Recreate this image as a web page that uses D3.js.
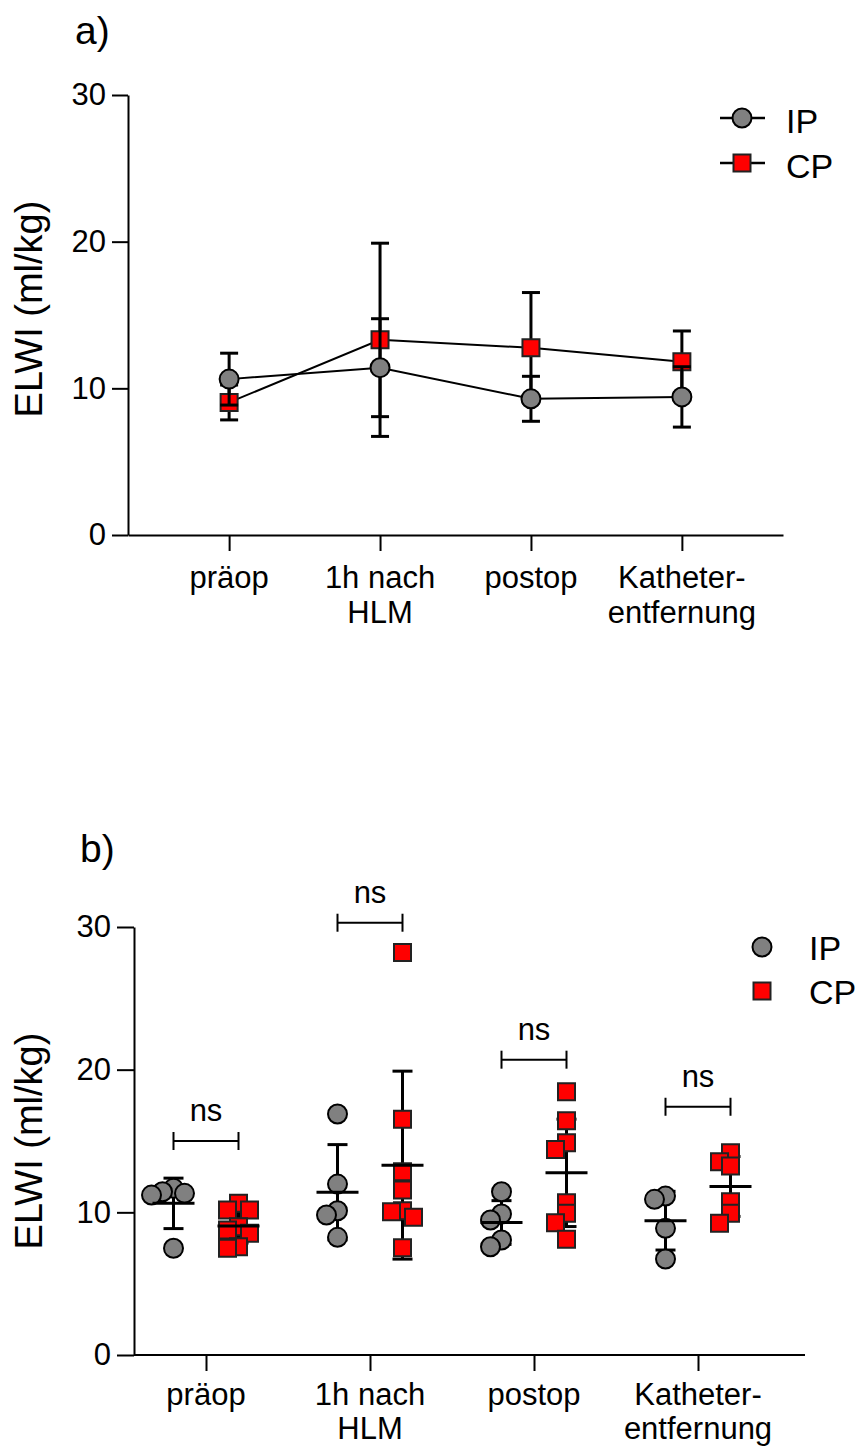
<!DOCTYPE html>
<html>
<head>
<meta charset="utf-8">
<script src="https://cdn.jsdelivr.net/npm/d3@7"></script>
<style>
  body { margin: 0; background: #fff; }
  text { font-family: "Liberation Sans", Arial, sans-serif; fill: #000; }
</style>
</head>
<body>
<svg id="chart"></svg>
<script>
// data
const categories = ["präop", "1h nach HLM", "postop", "Katheterentfernung"];
const categoryLines = [["präop"], ["1h nach", "HLM"], ["postop"], ["Katheter-", "entfernung"]];
const groups = ["IP", "CP"];
const ipValues = [
  [11.68, 11.44, 11.33, 11.21, 7.48],
  [16.89, 11.98, 10.11, 9.81, 8.25],
  [11.44, 9.88, 9.46, 8.06, 7.59],
  [11.14, 10.91, 8.88, 6.73]
];
const cpValues = [
  [10.63, 10.16, 10.16, 8.99, 8.76, 8.53, 7.59, 7.48],
  [28.22, 16.52, 12.85, 11.56, 10.11, 10.04, 9.65, 7.52],
  [18.45, 16.42, 14.88, 14.41, 10.67, 9.93, 9.27, 8.11],
  [14.18, 13.55, 13.24, 10.74, 9.93, 9.23]
];
const bracketLevels = [15.0, 30.3, 20.7, 17.4];
const bracketLabels = ["ns", "ns", "ns", "ns"];
const yTicks = [0, 10, 20, 30];

const W = 859, H = 1448;
const grey = "#808080", red = "#ff0000";

const svg = d3.select("#chart").attr("width", W).attr("height", H);
svg.append("rect").attr("width", W).attr("height", H).attr("fill", "#fff");

const series = [
  {name: "IP", values: ipValues, symbol: d3.symbolCircle, fill: grey, size: Math.PI * 9.5 * 9.5},
  {name: "CP", values: cpValues, symbol: d3.symbolSquare, fill: red, size: 17 * 17}
];
series.forEach(s => {
  s.stats = s.values.map((v, i) => ({cat: categories[i], mean: d3.mean(v), sd: d3.deviation(v)}));
});

function marker(g, s, x, y) {
  g.append("path")
    .attr("d", d3.symbol().type(s.symbol).size(s.size)())
    .attr("transform", `translate(${x},${y})`)
    .attr("fill", s.fill)
    .attr("stroke", s.name === "IP" ? "#000" : "#222")
    .attr("stroke-width", 2);
}

function yAxis(g, y, x, tick) {
  g.attr("transform", `translate(${x},0)`)
    .call(d3.axisLeft(y).tickValues(yTicks).tickSize(tick).tickSizeOuter(0).tickPadding(6))
    .call(a => a.selectAll("path,line").attr("stroke", "#000").attr("stroke-width", 2))
    .call(a => a.selectAll("text").style("font-size", "31px").attr("font-family", null));
}

function xLabels(g, x, y0, off, lh) {
  categories.forEach((c, i) => {
    const t = g.append("text")
      .attr("text-anchor", "middle")
      .style("font-size", "31px");
    categoryLines[i].forEach((line, j) => {
      t.append("tspan").attr("x", x(c)).attr("y", y0 + off + j * lh).text(line);
    });
  });
}

// ---------- panel a ----------
const xA = d3.scalePoint().domain(categories).range([128, 783]).padding(0.67);
const yA = d3.scaleLinear().domain([0, 30]).range([535, 95]);
const gA = svg.append("g");

gA.append("text").attr("x", 75).attr("y", 44).style("font-size", "39px").text("a)");

yAxis(gA.append("g"), yA, 128, 16);
gA.append("g")
  .attr("transform", `translate(0,${yA(0)})`)
  .call(d3.axisBottom(xA).tickSize(16).tickSizeOuter(0).tickFormat(""))
  .call(a => a.selectAll("path,line").attr("stroke", "#000").attr("stroke-width", 2));
xLabels(gA, xA, yA(0), 53, 35);

gA.append("text")
  .attr("transform", `translate(42,${(yA(0) + yA(30)) / 2 - 6}) rotate(-90)`)
  .attr("text-anchor", "middle")
  .style("font-size", "38px")
  .text("ELWI (ml/kg)");

// lines
series.forEach(s => {
  gA.append("path")
    .datum(s.stats)
    .attr("fill", "none")
    .attr("stroke", "#000")
    .attr("stroke-width", 2)
    .attr("d", d3.line().x(d => xA(d.cat)).y(d => yA(d.mean)));
});

// error bars + markers, CP first so IP sits on top
[series[1], series[0]].forEach(s => {
  s.stats.forEach(d => {
    const x = xA(d.cat);
    const eb = gA.append("g").attr("stroke", "#000").attr("stroke-width", 3);
    eb.append("line").attr("x1", x).attr("x2", x).attr("y1", yA(d.mean - d.sd)).attr("y2", yA(d.mean + d.sd));
    [d.mean - d.sd, d.mean + d.sd].forEach(v => {
      eb.append("line").attr("x1", x - 9).attr("x2", x + 9).attr("y1", yA(v)).attr("y2", yA(v));
    });
  });
  s.stats.forEach(d => marker(gA, s, xA(d.cat), yA(d.mean)));
});

// legend a
series.forEach((s, i) => {
  const y = 118 + i * 45;
  gA.append("line").attr("x1", 720).attr("x2", 765).attr("y1", y).attr("y2", y)
    .attr("stroke", "#000").attr("stroke-width", 2.5);
  marker(gA, s, 742, y);
  gA.append("text").attr("x", 786).attr("y", y + 15).style("font-size", "34px").text(s.name);
});

// ---------- panel b ----------
const xB = d3.scalePoint().domain(categories).range([206, 698]);
const sub = d3.scalePoint().domain(groups).range([-32.5, 32.5]);
const yB = d3.scaleLinear().domain([0, 30]).range([1355, 927]);
const gB = svg.append("g");

gB.append("text").attr("x", 80).attr("y", 862).style("font-size", "39px").text("b)");

yAxis(gB.append("g"), yB, 134, 17);
const xAxB = gB.append("g")
  .attr("transform", `translate(0,${yB(0)})`)
  .call(d3.axisBottom(xB).tickSize(16).tickSizeOuter(0).tickFormat(""))
  .call(a => a.select(".domain").remove())
  .call(a => a.selectAll("line").attr("stroke", "#000").attr("stroke-width", 2));
xAxB.append("line").attr("x1", 134).attr("x2", 805).attr("stroke", "#000").attr("stroke-width", 2);
xLabels(gB, xB, yB(0), 50, 34);

gB.append("text")
  .attr("transform", `translate(42,${(yB(0) + yB(30)) / 2}) rotate(-90)`)
  .attr("text-anchor", "middle")
  .style("font-size", "38px")
  .text("ELWI (ml/kg)");

// simple dodge so overlapping points spread sideways
function dodge(values, y) {
  const step = 11, minD = 10, placed = [];
  return values.map(v => {
    const py = y(v);
    for (const k of [0, -1, 1, -2, 2, -3, 3, -4, 4]) {
      const px = k * step;
      if (placed.every(p => Math.hypot(p.x - px, p.y - py) >= minD)) {
        placed.push({x: px, y: py});
        return px;
      }
    }
    return 0;
  });
}

series.forEach(s => {
  s.stats.forEach((d, i) => {
    const cx = xB(d.cat) + sub(s.name);
    const eb = gB.append("g").attr("stroke", "#000").attr("stroke-width", 3);
    eb.append("line").attr("x1", cx).attr("x2", cx).attr("y1", yB(d.mean - d.sd)).attr("y2", yB(d.mean + d.sd));
    [d.mean - d.sd, d.mean + d.sd].forEach(v => {
      eb.append("line").attr("x1", cx - 10).attr("x2", cx + 10).attr("y1", yB(v)).attr("y2", yB(v));
    });
    const offs = dodge(s.values[i], yB);
    s.values[i].forEach((v, j) => marker(gB, s, cx + offs[j], yB(v)));
    gB.append("line").attr("x1", cx - 21).attr("x2", cx + 21).attr("y1", yB(d.mean)).attr("y2", yB(d.mean))
      .attr("stroke", "#000").attr("stroke-width", 3);
  });
});

// significance brackets
categories.forEach((c, i) => {
  const x1 = xB(c) + sub("IP"), x2 = xB(c) + sub("CP"), y = yB(bracketLevels[i]);
  const g = gB.append("g").attr("stroke", "#000").attr("stroke-width", 2);
  g.append("line").attr("x1", x1).attr("x2", x2).attr("y1", y).attr("y2", y);
  [x1, x2].forEach(x => g.append("line").attr("x1", x).attr("x2", x).attr("y1", y - 9).attr("y2", y + 9));
  gB.append("text").attr("x", (x1 + x2) / 2).attr("y", y - 20)
    .attr("text-anchor", "middle").style("font-size", "31px").text(bracketLabels[i]);
});

// legend b
series.forEach((s, i) => {
  const y = 947 + i * 44;
  marker(gB, s, 762, y);
  gB.append("text").attr("x", 809).attr("y", y + 13).style("font-size", "34px").text(s.name);
});
</script>
</body>
</html>
